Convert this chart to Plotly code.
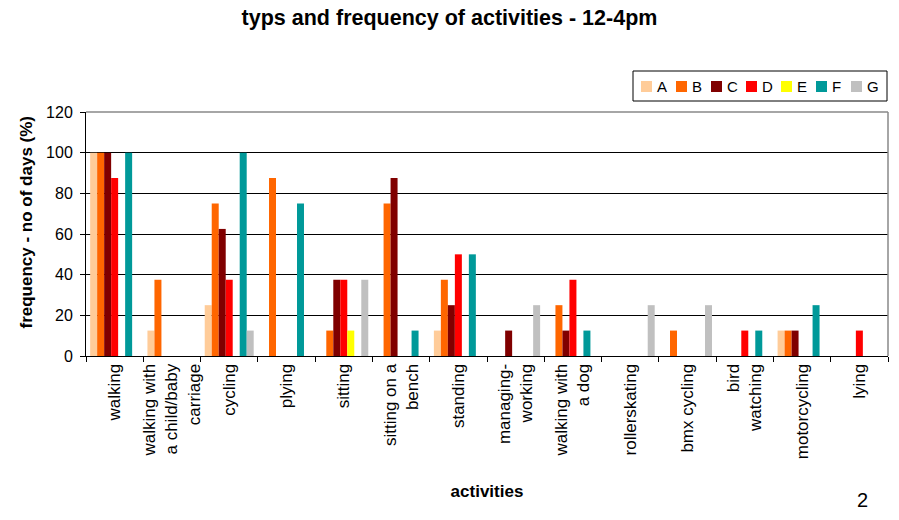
import plotly.graph_objects as go

categories = [
    "walking", "walking with<br>a child/baby<br>carriage", "cycling", "plying", "sitting",
    "sitting on a<br>bench", "standing", "managing-<br>working", "walking with<br>a dog",
    "rollerskating", "bmx cycling", "bird<br>watching", "motorcycling", "lying",
]

series_names = ["A", "B", "C", "D", "E", "F", "G"]
series_colors = ["#FFCC99", "#FF6600", "#800000", "#FF0000", "#FFFF00", "#009999", "#C0C0C0"]

A = [100, 12.5, 25, 0, 0, 0, 12.5, 0, 0, 0, 0, 0, 12.5, 0]
B = [100, 37.5, 75, 87.5, 12.5, 75, 37.5, 0, 25, 0, 12.5, 0, 12.5, 0]
C = [100, 0, 62.5, 0, 37.5, 87.5, 25, 12.5, 12.5, 0, 0, 0, 12.5, 0]
D = [87.5, 0, 37.5, 0, 37.5, 0, 50, 0, 37.5, 0, 0, 12.5, 0, 12.5]
E = [0, 0, 0, 0, 12.5, 0, 0, 0, 0, 0, 0, 0, 0, 0]
F = [100, 0, 100, 75, 0, 12.5, 50, 0, 12.5, 0, 0, 12.5, 25, 0]
G = [0, 0, 12.5, 0, 37.5, 0, 0, 25, 0, 25, 25, 0, 0, 0]
series_values = [A, B, C, D, E, F, G]

y_ticks = [0, 20, 40, 60, 80, 100, 120]

FONT = "Liberation Sans, Arial, sans-serif"

W, H = 899, 520
ML, MR, MT, MB = 86, 11, 112, 164
PW, PH = W - ML - MR, H - MT - MB


def px(xp):
    return (xp - ML) / PW


def py(yp):
    return (H - MB - yp) / PH


fig = go.Figure()
for name, color, vals in zip(series_names, series_colors, series_values):
    fig.add_trace(go.Bar(name=name, x=categories, y=vals,
                         marker=dict(color=color, line=dict(width=0)), showlegend=False))

fig.update_layout(
    width=W, height=H,
    margin=dict(l=ML, r=MR, t=MT, b=MB, autoexpand=False),
    paper_bgcolor="white", plot_bgcolor="white",
    barmode="group", bargap=0.145, bargroupgap=0,
    font=dict(family=FONT, color="black", size=16),
    title=dict(text="<b>typs and frequency of activities - 12-4pm</b>",
               x=0.5, xref="container", xanchor="center", y=1 - 17 / H, yanchor="middle",
               font=dict(size=21.5, family=FONT)),
    showlegend=False,
)

fig.update_xaxes(
    type="category", showline=True, linecolor="black", linewidth=1,
    ticks="outside", tickson="boundaries", ticklen=5, tickcolor="black",
    tickangle=-90, tickfont=dict(size=17, family=FONT), automargin=False,
    showgrid=False,
    title=dict(text="<b>activities</b>", font=dict(size=17, family=FONT), standoff=26),
)
fig.update_yaxes(
    range=[0, 120], tickvals=y_ticks, showline=True, linecolor="black", linewidth=1,
    ticks="outside", ticklen=5, tickcolor="black", tickfont=dict(size=16, family=FONT),
    ticklabelstandoff=4,
    showgrid=True, gridcolor="black", gridwidth=1, zeroline=False, automargin=False,
)

# y-axis title
fig.add_annotation(text="<b>frequency - no of days (%)</b>", xref="paper", yref="paper",
                   x=px(25.5), y=py(222), xanchor="center", yanchor="middle", textangle=-90,
                   showarrow=False, font=dict(size=17, family=FONT))

# plot-area border (top / right) in grey
fig.add_shape(type="line", xref="paper", yref="paper", x0=0, x1=1, y0=1, y1=1,
              line=dict(color="#888888", width=1.5), layer="above")
fig.add_shape(type="line", xref="paper", yref="paper", x0=1, x1=1, y0=0, y1=1,
              line=dict(color="#888888", width=1.5), layer="above")

# legend box
LX0, LX1, LY0, LY1 = 633, 887, 71, 101
fig.add_shape(type="rect", xref="paper", yref="paper",
              x0=px(LX0), x1=px(LX1), y0=py(LY1), y1=py(LY0),
              line=dict(color="black", width=1), fillcolor="white", layer="above")
for i, (name, color) in enumerate(zip(series_names, series_colors)):
    sx = 641 + i * 35
    fig.add_shape(type="rect", xref="paper", yref="paper",
                  x0=px(sx), x1=px(sx + 11), y0=py(92), y1=py(81),
                  line=dict(width=0), fillcolor=color, layer="above")
    fig.add_annotation(text=name, xref="paper", yref="paper", x=px(sx + 14), y=py(86.5),
                       xanchor="left", yanchor="middle", showarrow=False,
                       font=dict(size=15, family=FONT))

fig.add_annotation(text="2", xref="paper", yref="paper", x=px(862), y=py(500),
                   xanchor="center", yanchor="middle", showarrow=False,
                   font=dict(size=20, family=FONT))

fig.write_html("out.html", config={"displayModeBar": False},
               post_script="document.body.style.margin='0';")
